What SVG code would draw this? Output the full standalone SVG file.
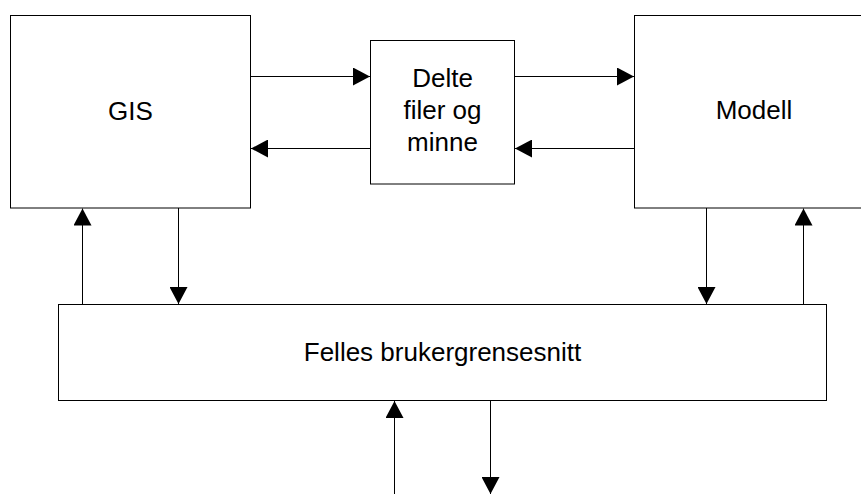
<svg xmlns="http://www.w3.org/2000/svg" width="861" height="494" viewBox="0 0 861 494">
<style>
.box{fill:#fff;stroke:#000;stroke-width:1}
.lbl{font-family:"Liberation Sans",Arial,sans-serif;font-size:26px;fill:#000;text-anchor:middle}
.con{stroke:#000;stroke-width:1;fill:none;marker-end:url(#ah)}
</style>
<defs>
<marker id="ah" viewBox="0 0 17 18" refX="17" refY="9" markerWidth="17" markerHeight="18" orient="auto" markerUnits="userSpaceOnUse">
<path d="M0,0 L17,9 L0,18 z" fill="#000"/>
</marker>
</defs>
<rect width="861" height="494" fill="#fff"/>
<g id="gis">
<rect class="box" x="10.5" y="15.5" width="240" height="192.5"/>
<text class="lbl" x="130.5" y="120">GIS</text>
</g>
<g id="delte">
<rect class="box" x="370.5" y="40.5" width="144" height="143.5"/>
<text class="lbl" x="442.5" y="87">Delte</text>
<text class="lbl" x="442.5" y="119">filer og</text>
<text class="lbl" x="442.5" y="151">minne</text>
</g>
<g id="modell">
<rect class="box" x="634.5" y="15.5" width="240" height="192.5"/>
<text class="lbl" x="754" y="119">Modell</text>
</g>
<g id="felles">
<rect class="box" x="58.5" y="304.5" width="768" height="96"/>
<text class="lbl" x="442.5" y="361">Felles brukergrensesnitt</text>
</g>
<g id="connectors">
<path class="con" d="M250.5,76.5 H370"/>
<path class="con" d="M370.5,148.5 H251"/>
<path class="con" d="M515,76.5 H634"/>
<path class="con" d="M634.5,148.5 H515"/>
<path class="con" d="M82.5,304 V208.5"/>
<path class="con" d="M178.5,208 V304"/>
<path class="con" d="M706.5,208 V304"/>
<path class="con" d="M803.5,304 V208.5"/>
<path class="con" d="M394.5,494 V401"/>
<path class="con" d="M490.5,401 V494"/>
</g>
</svg>
